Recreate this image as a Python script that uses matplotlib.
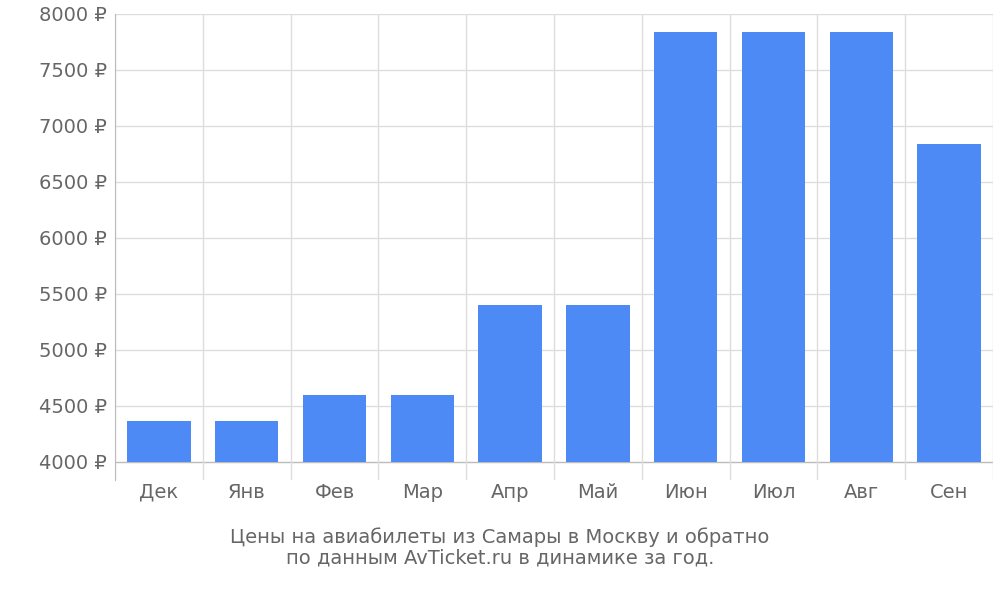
import matplotlib
matplotlib.use("Agg")
import matplotlib.pyplot as plt
import numpy as np

months = ["Дек", "Янв", "Фев", "Мар", "Апр", "Май", "Июн", "Июл", "Авг", "Сен"]
prices = [4366, 4366, 4598, 4598, 5402, 5402, 7840, 7840, 7840, 6840]
yticks = [4000, 4500, 5000, 5500, 6000, 6500, 7000, 7500, 8000]

fig = plt.figure(figsize=(10, 6), dpi=100)
ax = fig.add_axes([0.115, 0.2, 0.878, 0.7767])
x = np.arange(len(months))
base = 4000
ax.bar(x, [p - base for p in prices], bottom=base, width=0.72, color="#4d8af5", zorder=3)
ax.set_xlim(-0.5, len(months) - 0.5)
ax.set_ylim(base - 18 / 0.112, 8000)
ax.set_yticks(yticks)
ax.set_yticklabels([f"{v} ₽" for v in yticks], fontsize=14, color="#666666")
for v in yticks:
    ax.axhline(v, color="#dddddd" if v != base else "#bbbbbb", lw=1, zorder=1)
for b in np.arange(-0.5, len(months), 1):
    ax.axvline(b, color="#dddddd", lw=1, zorder=1)
ax.set_xticks(x)
ax.set_xticklabels(months, fontsize=14, color="#666666")
ax.tick_params(axis="both", length=0, pad=6)
ax.tick_params(axis="x", pad=2)
for s in ["top", "right", "bottom"]:
    ax.spines[s].set_visible(False)
ax.spines["left"].set_color("#bbbbbb")
fig.text(0.5, 0.087, "Цены на авиабилеты из Самары в Москву и обратно\nпо данным AvTicket.ru в динамике за год.",
         ha="center", va="center", fontsize=14, color="#666666", linespacing=1.1)
fig.savefig("out.png", dpi=100)
